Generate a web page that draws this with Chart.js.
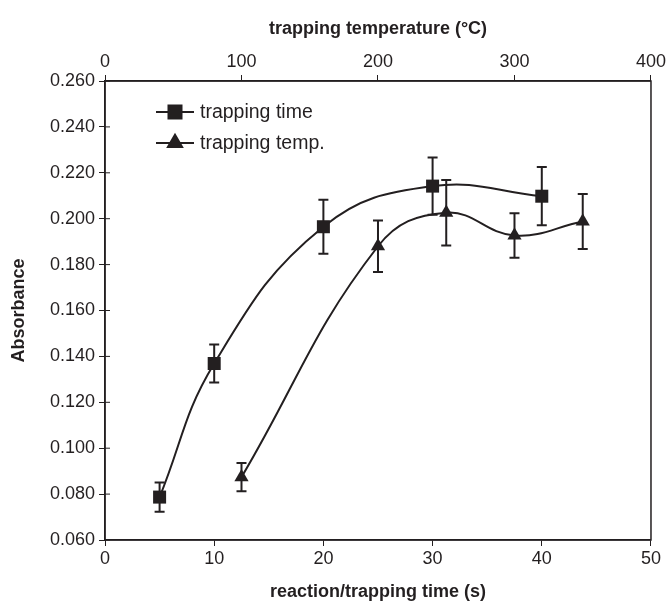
<!DOCTYPE html>
<html>
<head>
<meta charset="utf-8">
<script src="https://cdn.jsdelivr.net/npm/chart.js@4/dist/chart.umd.min.js"></script>
<style>
  html, body { margin: 0; padding: 0; background: #fff; }
  #wrap { width: 668px; height: 603px; }
</style>
</head>
<body>
<div id="wrap"><canvas id="myChart" width="668" height="603"></canvas></div>
<script>
// data
var timeX = [5, 10, 20, 30, 40];              // reaction/trapping time (s)
var timeY = [0.0787, 0.1369, 0.1965, 0.2142, 0.2098];
var timeErr = [0.0064, 0.0083, 0.0118, 0.0125, 0.0127];

var tempX = [100, 200, 250, 300, 350];        // trapping temperature (°C)
var tempY = [0.0874, 0.1880, 0.2026, 0.1927, 0.1988];
var tempErr = [0.0062, 0.0112, 0.0143, 0.0097, 0.0120];

var yTicks = [0.060, 0.080, 0.100, 0.120, 0.140, 0.160, 0.180, 0.200, 0.220, 0.240, 0.260];

var ink = "#231f20";
var fontFam = "'Liberation Sans', Arial, sans-serif";

function pts(xs, ys) {
    var out = [];
    for (var i = 0; i < xs.length; i++) out.push({x: xs[i], y: ys[i]});
    return out;
}

// error bars + frame box + legend with line through the marker
var extras = {
    id: "extras",
    beforeDatasetsDraw: function (chart) {
        var ctx = chart.ctx;
        var ys = chart.scales.y;
        ctx.save();
        ctx.strokeStyle = ink;
        ctx.lineWidth = 2;
        chart.data.datasets.forEach(function (ds, di) {
            var meta = chart.getDatasetMeta(di);
            meta.data.forEach(function (el, i) {
                var v = ds.data[i].y, e = ds.errors[i];
                var top = ys.getPixelForValue(v + e);
                var bot = ys.getPixelForValue(v - e);
                ctx.beginPath();
                ctx.moveTo(el.x, top); ctx.lineTo(el.x, bot);
                ctx.moveTo(el.x - 5, top); ctx.lineTo(el.x + 5, top);
                ctx.moveTo(el.x - 5, bot); ctx.lineTo(el.x + 5, bot);
                ctx.stroke();
            });
        });
        ctx.restore();
    },
    afterDraw: function (chart) {
        var ctx = chart.ctx;
        var a = chart.chartArea;
        ctx.save();
        ctx.strokeStyle = ink;
        ctx.lineWidth = 1.5;
        ctx.strokeRect(a.left, a.top, a.right - a.left, a.bottom - a.top);

        // small inner part of the left ticks (they cross the axis)
        var ys = chart.scales.y;
        ctx.lineWidth = 1;
        ys.ticks.forEach(function (t) {
            var py = ys.getPixelForValue(t.value);
            ctx.beginPath();
            ctx.moveTo(a.left, py); ctx.lineTo(a.left + 5, py);
            ctx.stroke();
        });

        // legend
        var lx = a.left + 51, ly = a.top + 31;
        chart.data.datasets.forEach(function (ds, di) {
            var y = ly + di * 31;
            ctx.strokeStyle = ink;
            ctx.lineWidth = 2;
            ctx.beginPath();
            ctx.moveTo(lx, y); ctx.lineTo(lx + 38, y);
            ctx.stroke();
            Chart.helpers.drawPoint(ctx, {
                pointStyle: ds.pointStyle, radius: ds.pointRadius, borderWidth: 1
            }, lx + 19, y);
            ctx.fillStyle = ink;
            ctx.fill();
            ctx.font = "19.5px " + fontFam;
            ctx.textBaseline = "middle";
            ctx.textAlign = "left";
            ctx.fillText(ds.label, lx + 44, y + 1);
        });
        ctx.restore();
    }
};

var tickFont = {family: fontFam, size: 18};
var titleFont = {family: fontFam, size: 18, weight: "bold"};

var ctx = document.getElementById("myChart").getContext("2d");
var myChart = new Chart(ctx, {
    type: "line",
    data: {
        datasets: [{
            label: "trapping time",
            data: pts(timeX, timeY),
            errors: timeErr,
            xAxisID: "x",
            borderColor: ink,
            backgroundColor: ink,
            borderWidth: 2,
            tension: 0.42,
            pointStyle: "rect",
            pointRadius: 9.2,
            pointBorderWidth: 0
        }, {
            label: "trapping temp.",
            data: pts(tempX, tempY),
            errors: tempErr,
            xAxisID: "x2",
            borderColor: ink,
            backgroundColor: ink,
            borderWidth: 2,
            tension: 0.42,
            pointStyle: "triangle",
            pointRadius: 8.2,
            pointBorderWidth: 0
        }]
    },
    options: {
        responsive: false,
        animation: false,
        layout: {padding: {left: 0, right: 17, top: 0, bottom: 0}},
        plugins: {legend: {display: false}, tooltip: {enabled: false}},
        scales: {
            x: {
                type: "linear", position: "bottom", min: 0, max: 50,
                ticks: {stepSize: 10, color: ink, font: tickFont, padding: 2},
                grid: {display: true, drawOnChartArea: false, drawTicks: true, tickLength: 6, color: ink, lineWidth: 1},
                border: {display: true, color: ink, width: 1.5},
                title: {display: true, text: "reaction/trapping time (s)", color: ink, font: titleFont, padding: {top: 4, bottom: 0}},
                afterFit: function (s) { s.height = 63; }
            },
            x2: {
                type: "linear", position: "top", min: 0, max: 400,
                ticks: {stepSize: 100, color: ink, font: tickFont, padding: 2},
                grid: {display: true, drawOnChartArea: false, drawTicks: true, tickLength: 6, color: ink, lineWidth: 1},
                border: {display: true, color: ink, width: 1.5},
                title: {display: true, text: "trapping temperature (°C)", color: ink, font: titleFont, padding: {top: 18, bottom: 4}},
                afterFit: function (s) { s.height = 81; }
            },
            y: {
                type: "linear", position: "left", min: 0.06, max: 0.26,
                afterBuildTicks: function (s) {
                    s.ticks = yTicks.map(function (v) { return {value: v}; });
                },
                ticks: {
                    color: ink, font: tickFont, padding: 4,
                    callback: function (v) { return v.toFixed(3); }
                },
                grid: {display: true, drawOnChartArea: false, drawTicks: true, tickLength: 6, color: ink, lineWidth: 1},
                border: {display: true, color: ink, width: 1.5},
                title: {display: true, text: "Absorbance", color: ink, font: titleFont, padding: {top: 8, bottom: 0}},
                afterFit: function (s) { s.width = 105; }
            }
        }
    },
    plugins: [extras]
});
</script>
</body>
</html>
